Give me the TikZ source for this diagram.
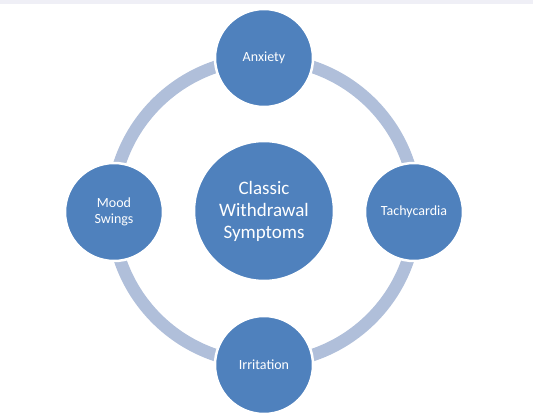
\documentclass[tikz,border=0pt]{standalone}
\usepackage{fontspec}
\setmainfont{Carlito}
\usepackage{xcolor}
\usepackage{tikz}
\usetikzlibrary{positioning}
\definecolor{symblue}{HTML}{4F81BD}
\definecolor{ringblue}{HTML}{B0BFDA}
\definecolor{topband}{HTML}{EFEFF6}

\begin{document}
\begin{tikzpicture}[
  x=1pt, y=1pt,
  hub/.style={circle, fill=symblue, draw=white, line width=2.5pt, minimum size=140pt, inner sep=0pt, align=center, text=white, font=\fontsize{19}{22}\selectfont},
  leaf/.style={circle, fill=symblue, draw=white, line width=2.5pt, minimum size=98pt, inner sep=0pt, align=center, text=white, font=\fontsize{14}{16}\selectfont},
  ring/.style={draw=ringblue, line width=12.5pt}
]
\useasboundingbox (0,0) rectangle (533,-415);
\fill[topband] (0,0) rectangle (533,-4);

\coordinate (mid) at (264,-211);
\draw[ring] (mid) circle[radius=152];

\node[hub] (hub) at (mid) {Classic\\Withdrawal\\Symptoms};
\node[leaf] (anx) at (264,-58) {Anxiety};
\node[leaf] (tachy) at (414,-212) {Tachycardia};
\node[leaf] (irrit) at (264,-365) {Irritation};
\node[leaf] (mood) at (114,-212) {Mood\\Swings};
\end{tikzpicture}
\end{document}
